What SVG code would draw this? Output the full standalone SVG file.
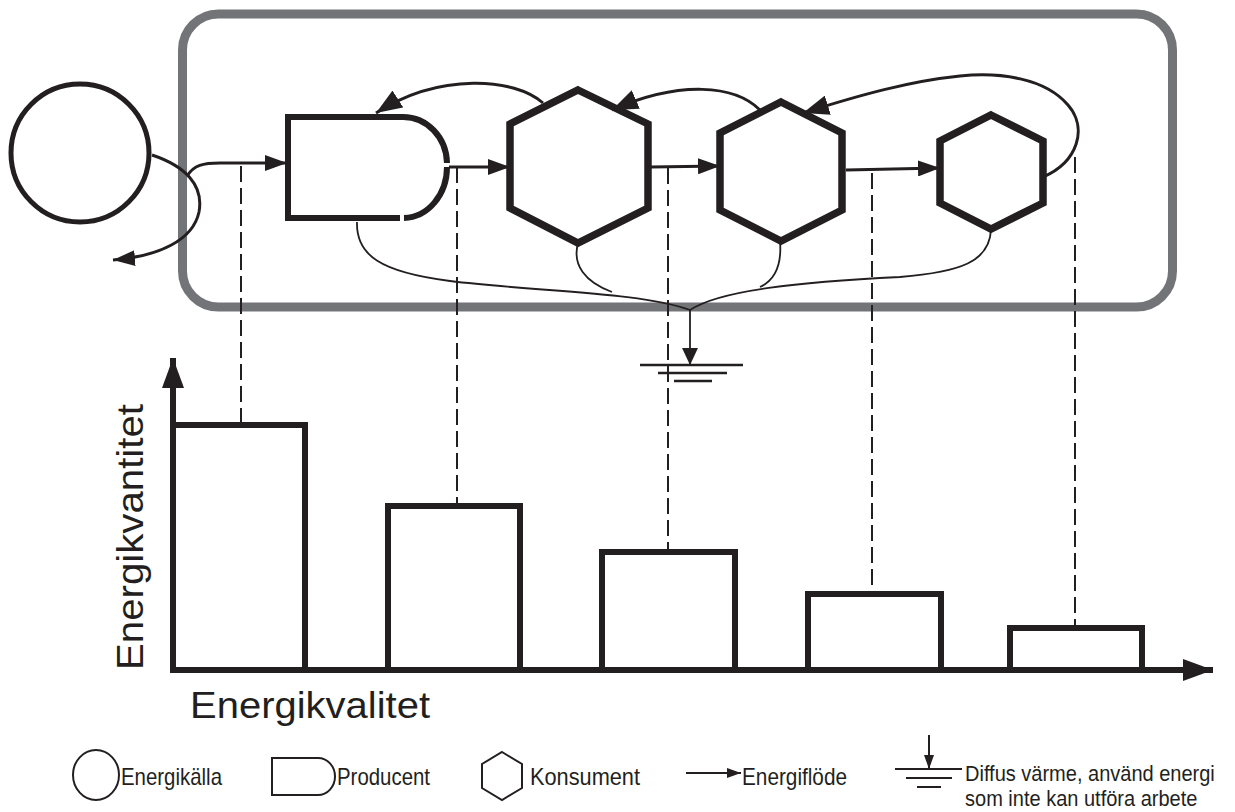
<svg xmlns="http://www.w3.org/2000/svg" width="1235" height="812" viewBox="0 0 1235 812">
<defs>
<style>
.frame{fill:none;stroke:#737478;stroke-width:9}
.node{fill:none;stroke:#231f20;stroke-width:6;stroke-linejoin:miter}
.hex{fill:none;stroke:#231f20;stroke-width:7.5;stroke-linejoin:miter}
.flow{fill:none;stroke:#231f20;stroke-width:3}
.heat{fill:none;stroke:#231f20;stroke-width:1.8}
.dash{fill:none;stroke:#231f20;stroke-width:2;stroke-dasharray:16 6}
.bar{fill:none;stroke:#231f20;stroke-width:6}
.axis{fill:none;stroke:#231f20;stroke-width:6}
.gnd{fill:none;stroke:#231f20;stroke-width:2.5}
.leg{fill:none;stroke:#231f20;stroke-width:2}
.big{font-family:"Liberation Sans",Arial,sans-serif;font-size:37px;fill:#231f20}
.lt{font-family:"Liberation Sans",Arial,sans-serif;font-size:24px;fill:#231f20}
.lt2{font-family:"Liberation Sans",Arial,sans-serif;font-size:22px;fill:#231f20}
</style>
<marker id="ah" viewBox="0 0 22 16" refX="22" refY="8" markerWidth="22" markerHeight="16" orient="auto" markerUnits="userSpaceOnUse"><path d="M0,0 L22,8 L0,16 z" fill="#231f20"/></marker>
<marker id="ahb" viewBox="0 0 26 20" refX="26" refY="10" markerWidth="26" markerHeight="20" orient="auto" markerUnits="userSpaceOnUse"><path d="M0,0 L26,10 L0,20 z" fill="#231f20"/></marker>
<marker id="ahg" viewBox="0 0 17 16" refX="17" refY="8" markerWidth="17" markerHeight="16" orient="auto" markerUnits="userSpaceOnUse"><path d="M0,0 L17,8 L0,16 z" fill="#231f20"/></marker>
<marker id="ahax" viewBox="0 0 30 22" refX="30" refY="11" markerWidth="30" markerHeight="22" orient="auto" markerUnits="userSpaceOnUse"><path d="M0,0 L30,11 L0,22 z" fill="#231f20"/></marker>
<marker id="ahs" viewBox="0 0 14 10" refX="14" refY="5" markerWidth="14" markerHeight="10" orient="auto" markerUnits="userSpaceOnUse"><path d="M0,0 L14,5 L0,10 z" fill="#231f20"/></marker>
</defs>
<rect width="1235" height="812" fill="#ffffff"/>

<g id="system-boundary">
<rect class="frame" x="182.5" y="14" width="990" height="293" rx="36" ry="36"/>
</g>

<g id="energikalla">
<circle cx="80" cy="153" r="69" fill="none" stroke="#231f20" stroke-width="5"/>
</g>

<g id="producent">
<path class="node" d="M403,117 L288,117 L288,218 L400,218"/>
<path class="node" d="M403,117 A44,47 0 0 1 447,163"/>
<path class="node" d="M447,167 A44,51 0 0 1 404,218"/>
</g>

<g id="konsument1">
<polygon class="hex" points="578,90 648,124 648,208 578,243 510,208 510,124"/>
</g>
<g id="konsument2">
<polygon class="hex" points="781,102 842,133 842,210 781,241 720,210 720,133"/>
</g>
<g id="konsument3">
<polygon class="hex" points="991,115 1043,141 1043,203 991,229 940,203 940,141"/>
</g>

<g id="connectors">
<path class="flow" d="M187,176 C194,165 203,163 220,163 L287,163" marker-end="url(#ah)"/>
<path class="flow" d="M152,155 C185,166 204,185 199,212 C193,240 160,256 113,260" marker-end="url(#ah)"/>
<path class="flow" d="M449,167 L510,167" marker-end="url(#ah)"/>
<path class="flow" d="M651,167 L720,166" marker-end="url(#ah)"/>
<path class="flow" d="M846,170 L940,168" marker-end="url(#ah)"/>
<path class="flow" d="M543,103 C515,78 440,72 376,113" marker-end="url(#ahb)"/>
<path class="flow" d="M760,110 C735,85 680,80 612,110" marker-end="url(#ahb)"/>
<path class="flow" d="M1043,177 C1078,162 1088,128 1068,105 C1045,78 1000,72 960,76 C910,81 860,95 803,113" marker-end="url(#ahb)"/>

<path class="heat" d="M357,222 C356,255 380,272 450,281 C540,292 640,292 690,310"/>
<path class="heat" d="M578,243 C572,265 585,282 612,292"/>
<path class="heat" d="M780,241 C782,265 775,280 760,287"/>
<path class="heat" d="M991,229 C990,262 960,272 900,277 C800,282 720,290 690,310"/>
<path class="heat" d="M690,310 L690,365" marker-end="url(#ahg)"/>
<path class="gnd" d="M640,365 L743,365 M658,373 L727,373 M674,381 L712,381"/>

<path class="dash" d="M241,166 L241,425"/>
<path class="dash" d="M457,167 L457,506"/>
<path class="dash" d="M668,168 L668,552"/>
<path class="dash" d="M872,173 L872,594"/>
<path class="dash" d="M1075,157 L1075,628"/>
</g>

<g id="chart">
<rect class="bar" x="173" y="425" width="132" height="245"/>
<rect class="bar" x="388" y="506" width="132" height="164"/>
<rect class="bar" x="602" y="552" width="133" height="118"/>
<rect class="bar" x="808" y="594" width="133" height="76"/>
<rect class="bar" x="1010" y="628" width="132" height="42"/>
<path class="axis" d="M173,670 L173,358" marker-end="url(#ahax)"/>
<path class="axis" d="M173,670 L1213,670" marker-end="url(#ahax)"/>
<text class="big" transform="translate(143,670) rotate(-90)" textLength="266" lengthAdjust="spacingAndGlyphs">Energikvantitet</text>
<text class="big" x="190" y="718" textLength="240" lengthAdjust="spacingAndGlyphs">Energikvalitet</text>
</g>

<g id="legend">
<ellipse class="leg" cx="96" cy="775" rx="23" ry="25"/>
<text class="lt" x="121" y="785" textLength="101" lengthAdjust="spacingAndGlyphs">Energikälla</text>
<path class="leg" d="M318,758 L272,758 L272,795 L318,795 A17,18.5 0 0 0 318,758"/>
<text class="lt" x="337" y="785" textLength="93" lengthAdjust="spacingAndGlyphs">Producent</text>
<polygon class="leg" points="502,752 522,764 522,788 502,800 482,788 482,764"/>
<text class="lt" x="530" y="785" textLength="110" lengthAdjust="spacingAndGlyphs">Konsument</text>
<path class="leg" d="M686,773 L741,773" marker-end="url(#ahs)"/>
<text class="lt" x="742" y="785" textLength="105" lengthAdjust="spacingAndGlyphs">Energiflöde</text>
<path class="leg" d="M929,735 L929,769" marker-end="url(#ahs)"/>
<path class="leg" d="M895,769 L962,769 M906,778 L952,778 M917,787 L941,787"/>
<text class="lt2" transform="translate(965,781) scale(0.91,1)">Diffus värme, använd energi</text>
<text class="lt2" transform="translate(965,806) scale(0.91,1)">som inte kan utföra arbete</text>
</g>
</svg>
